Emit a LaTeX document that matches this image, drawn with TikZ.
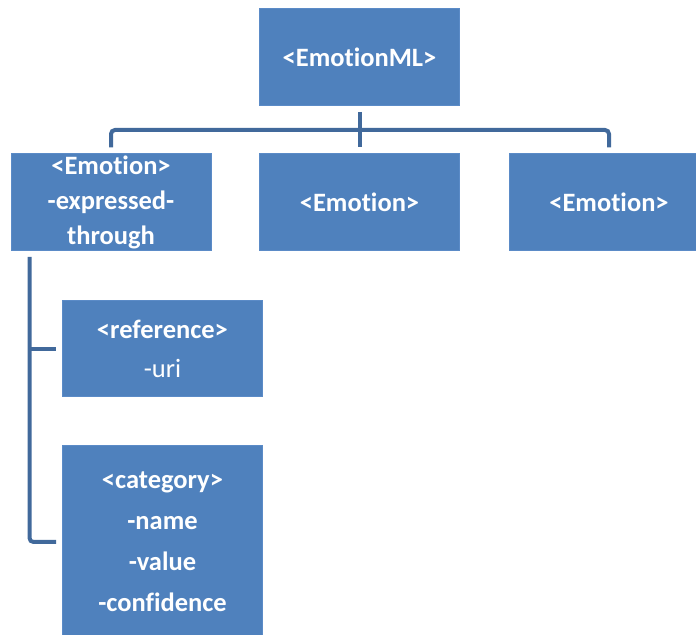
\documentclass[tikz,border=0pt]{standalone}
\usepackage{fontspec}
\setmainfont[Ligatures=NoCommon]{Carlito}
\definecolor{boxfill}{HTML}{4F81BD}
\definecolor{boxline}{HTML}{5B8BC7}
\definecolor{conncol}{HTML}{41699B}
\tikzset{
  blk/.style={fill=boxfill, draw=boxline, line width=0.5pt, inner sep=0pt,
    text=white, align=center, font=\fontsize{13.25}{17.5}\selectfont\bfseries},
  conn/.style={draw=conncol, line width=2pt}
}
\begin{document}
\begin{tikzpicture}[x=0.5pt,y=-0.5pt]
\useasboundingbox (0,0) rectangle (696,635);
\node[blk, minimum width=100pt, minimum height=48.5pt] (root) at (359.5,57) {<EmotionML>};
\node[blk, minimum width=100pt, minimum height=48.5pt] (e1) at (111,202.5) {\raisebox{-1.5pt}{\parbox{90pt}{\centering <Emotion>\\-expressed-\\through}}};
\node[blk, minimum width=100pt, minimum height=48.5pt] (e2) at (359.5,202.5) {<Emotion>};
\node[blk, minimum width=100pt, minimum height=48.5pt] (e3) at (609,202.5) {<Emotion>};
\node[blk, minimum width=100pt, minimum height=48pt, font=\fontsize{13.25}{19.5}\selectfont] (ref) at (162.5,349) {\textbf{<reference>}\\-uri};
\node[blk, minimum width=100pt, minimum height=96pt, font=\fontsize{13.25}{20.5}\selectfont\bfseries] (cat) at (162.5,542) {<category>\\-name\\-value\\-confidence};
\coordinate (bar) at (359.5,130);
\coordinate (trunktop) at (29.5,257);
\draw[conn, rounded corners=2pt] ([yshift=3pt]e1.north) |- (bar) -| ([yshift=3pt]e3.north);
\draw[conn] ([yshift=-3pt]root.south) -- ([yshift=3pt]e2.north);
\draw[conn, rounded corners=2pt] (trunktop) |- ([xshift=-3pt]cat.west);
\draw[conn] (ref.west -| trunktop) -- ([xshift=-3pt]ref.west);
\end{tikzpicture}
\end{document}
